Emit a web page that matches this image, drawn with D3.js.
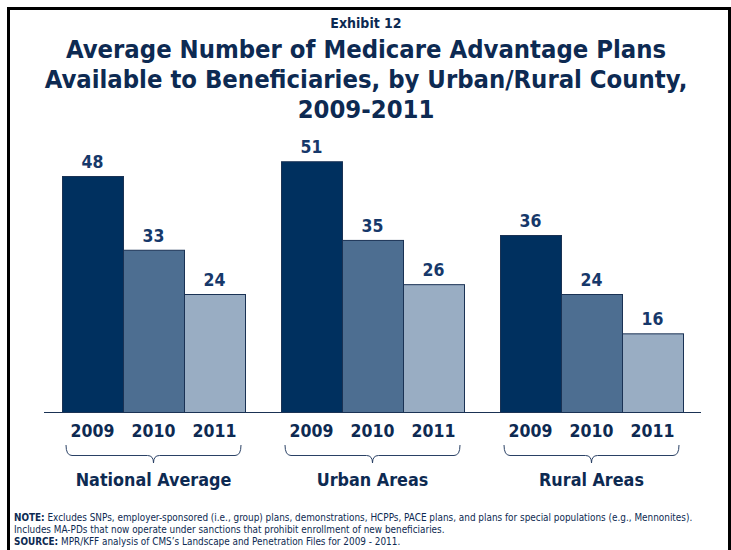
<!DOCTYPE html>
<html>
<head>
<meta charset="utf-8">
<script src="https://cdn.jsdelivr.net/npm/d3@7/dist/d3.min.js"></script>
<style>
  html, body { margin: 0; padding: 0; background: #fff; }
  svg { display: block; }
  .cond { font-family: "DejaVu Sans", Verdana, sans-serif; font-stretch: condensed; font-weight: bold; }
</style>
</head>
<body>
<script>
// Chart data
const groups = ["National Average", "Urban Areas", "Rural Areas"];
const years = ["2009", "2010", "2011"];
const plans2009 = [48, 51, 36];
const plans2010 = [33, 35, 24];
const plans2011 = [24, 26, 16];
const yearColors = ["#00305f", "#4d6e91", "#99adc3"];

const exhibit = "Exhibit 12";
const titleLines = [
  "Average Number of Medicare Advantage Plans",
  "Available to Beneficiaries, by Urban/Rural County,",
  "2009-2011"
];

const seriesByYear = [plans2009, plans2010, plans2011];
const rows = groups.map((g, gi) => ({
  group: g,
  bars: years.map((y, yi) => ({ year: y, value: seriesByYear[yi][gi], color: yearColors[yi] }))
}));

const W = 731, H = 550;
const svg = d3.select("body").append("svg").attr("width", W).attr("height", H);

// Frame lines (left, top, right)
svg.append("path")
  .attr("d", "M8.5,560 L8.5,8.5 L729.5,8.5 L729.5,560")
  .attr("fill", "none").attr("stroke", "#000").attr("stroke-width", 3);

const navy = "#0d2a52";

// Titles
svg.append("text").attr("class", "cond")
  .attr("x", 366).attr("y", 28).attr("text-anchor", "middle")
  .attr("font-size", 14).attr("fill", navy).text(exhibit);

svg.selectAll("text.title").data(titleLines).join("text")
  .attr("class", "cond title")
  .attr("x", 366).attr("y", (d, i) => 58 + i * 30)
  .attr("text-anchor", "middle")
  .attr("font-size", 25.4).attr("fill", navy).text(d => d);

// Scales
const baseY = 412;
const x0 = d3.scaleBand().domain(groups).range([44, 701]).paddingInner(36 / 219).paddingOuter(18 / 219);
const x1 = d3.scaleBand().domain(years).range([0, x0.bandwidth()]);
const y = d3.scaleLinear().domain([0, 48]).range([baseY, 176]);

const g = svg.append("g");
const grp = g.selectAll("g.grp").data(rows).join("g")
  .attr("class", "grp")
  .attr("transform", d => `translate(${x0(d.group)},0)`);

grp.selectAll("rect").data(d => d.bars).join("rect")
  .attr("x", d => x1(d.year) + 0.5)
  .attr("y", d => y(d.value) + 0.5)
  .attr("width", x1.bandwidth())
  .attr("height", d => baseY - y(d.value))
  .attr("fill", d => d.color)
  .attr("stroke", "#1a3254").attr("stroke-width", 1);

// Value labels
grp.selectAll("text.val").data(d => d.bars).join("text")
  .attr("class", "cond val")
  .attr("x", d => x1(d.year) + x1.bandwidth() / 2)
  .attr("y", d => y(d.value) - 8)
  .attr("text-anchor", "middle")
  .attr("font-size", 17.5).attr("fill", "#16386a")
  .text(d => d.value);

// Baseline
svg.append("line")
  .attr("x1", 44).attr("x2", 701).attr("y1", baseY + 0.5).attr("y2", baseY + 0.5)
  .attr("stroke", "#1a3254").attr("stroke-width", 1.2);

// Year labels
grp.selectAll("text.yr").data(d => d.bars).join("text")
  .attr("class", "cond yr")
  .attr("x", d => x1(d.year) + x1.bandwidth() / 2)
  .attr("y", 437)
  .attr("text-anchor", "middle")
  .attr("font-size", 17.5).attr("fill", navy)
  .text(d => d.year);

// Curly braces under each group
function brace(x0p, x1p, yTop, yMid, yTip) {
  const cx = (x0p + x1p) / 2, r = 6;
  return `M${x0p},${yTop} Q${x0p},${yMid} ${x0p + r},${yMid} L${cx - r},${yMid} ` +
         `Q${cx},${yMid} ${cx},${yTip} Q${cx},${yMid} ${cx + r},${yMid} ` +
         `L${x1p - r},${yMid} Q${x1p},${yMid} ${x1p},${yTop}`;
}
grp.append("path")
  .attr("d", () => brace(4, x0.bandwidth() - 4, 445, 455.5, 463))
  .attr("fill", "none").attr("stroke", "#2a4165").attr("stroke-width", 1);

// Group labels
grp.append("text").attr("class", "cond")
  .attr("x", x0.bandwidth() / 2).attr("y", 486)
  .attr("text-anchor", "middle")
  .attr("font-size", 17.8).attr("fill", navy)
  .text(d => d.group);

// Footnotes
const notes = svg.append("g").attr("font-family", "'DejaVu Sans', sans-serif")
  .attr("font-size", 9.9).attr("fill", "#0d2a52").style("font-stretch", "condensed");
const n1 = notes.append("text").attr("x", 14).attr("y", 521);
n1.append("tspan").attr("font-weight", "bold").text("NOTE:");
n1.append("tspan").text(" Excludes SNPs, employer-sponsored (i.e., group) plans, demonstrations, HCPPs, PACE plans, and plans for special populations (e.g., Mennonites).");
notes.append("text").attr("x", 14).attr("y", 533)
  .text("Includes MA-PDs that now operate under sanctions that prohibit enrollment of new beneficiaries.");
const n3 = notes.append("text").attr("x", 14).attr("y", 545);
n3.append("tspan").attr("font-weight", "bold").text("SOURCE:");
n3.append("tspan").text("  MPR/KFF analysis of CMS\u2019s Landscape and Penetration Files for 2009 - 2011.");
</script>
</body>
</html>
